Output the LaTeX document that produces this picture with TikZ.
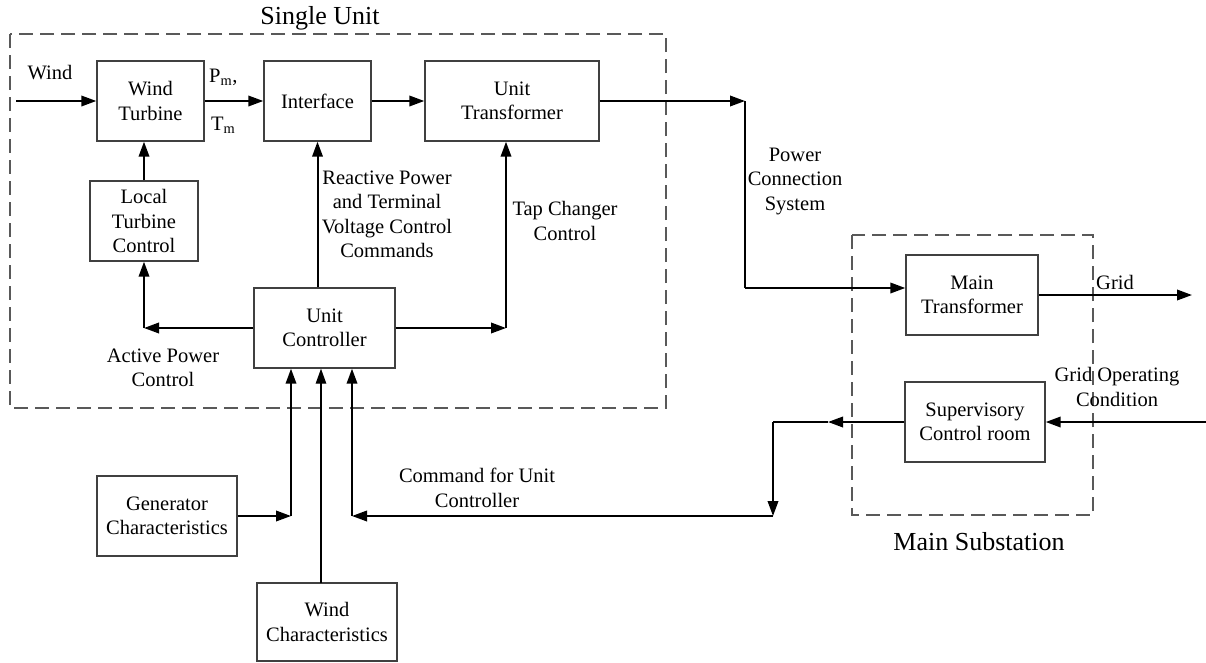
\documentclass[tikz,border=0pt]{standalone}
\usepackage{fontspec}
\setmainfont{Liberation Serif}
\usetikzlibrary{arrows.meta,calc}
\begin{document}
\begin{tikzpicture}[x=1pt,y=-1pt,
  blk/.style={draw=black!75,line width=1.4pt,align=center,inner sep=0pt,font=\fontsize{20.5}{24.5}\selectfont},
  lbl/.style={align=center,inner sep=0pt,font=\fontsize{20.5}{24.5}\selectfont},
  ttl/.style={inner sep=0pt,font=\fontsize{26}{30}\selectfont},
  grp/.style={draw=black!65,line width=1.4pt,dash pattern=on 14pt off 7pt},
  arr/.style={line width=2pt,-{Triangle[length=15pt,width=10.5pt]}},
  ln/.style={line width=2pt},
  thinarr/.style={line width=1.3pt,-{Triangle[length=15pt,width=10.5pt]}}]
\useasboundingbox (0,0) rectangle (1206,662);
% groups
\draw[grp] (10,34) rectangle (666,408);
\draw[grp] (852,235) rectangle (1093,515);
\node[ttl] (tsu) at (320,18) {Single Unit};
\node[ttl] (tms) at (979,542) {Main Substation};
% blocks
\node[blk,minimum width=107pt,minimum height=80pt] (wt) at (150.5,101) {Wind\\Turbine};
\node[blk,minimum width=107pt,minimum height=80pt] (if) at (317.5,101) {Interface};
\node[blk,minimum width=174pt,minimum height=80pt] (ut) at (512,101) {Unit\\Transformer};
\node[blk,minimum width=108pt,minimum height=80pt] (ltc) at (144,221) {Local\\Turbine\\Control};
\node[blk,minimum width=141pt,minimum height=80pt] (uc) at (324.5,328) {Unit\\Controller};
\node[blk,minimum width=140pt,minimum height=80pt] (gc) at (167,516) {Generator\\Characteristics};
\node[blk,minimum width=140pt,minimum height=78pt] (wc) at (327,622) {Wind\\Characteristics};
\node[blk,minimum width=132pt,minimum height=80pt] (mt) at (972,295) {Main\\Transformer};
\node[blk,minimum width=140pt,minimum height=80pt] (scr) at (975,422) {Supervisory\\Control room};
% labels
\node[lbl] (lwind) at (50,73) {Wind};
\node[lbl,anchor=west] (lpm) at (209,77) {P\textsubscript{m},};
\node[lbl,anchor=west] (ltm) at (211,125) {T\textsubscript{m}};
\node[lbl] (lrp) at (387,214.5) {Reactive Power\\and Terminal\\Voltage Control\\Commands};
\node[lbl] (ltap) at (565,221) {Tap Changer\\Control};
\node[lbl] (lpcs) at (795,181) {Power\\Connection\\System};
\node[lbl] (lapc) at (163,368) {Active Power\\Control};
\node[lbl] (lcmd) at (477,488) {Command for Unit\\Controller};
\node[lbl] (lgrid) at (1115,282) {Grid};
\node[lbl] (lgoc) at (1117,387) {Grid Operating\\Condition};
% coordinates
\coordinate (win) at (16,101);
\coordinate (p1) at (745,101);
\coordinate (p2) at (745,288);
\coordinate (gout) at (1192,295);
\coordinate (gin) at (1206,422);
\coordinate (s1) at (828,422);
\coordinate (s2) at (773,422);
\coordinate (s3) at (773,516);
\coordinate (s4) at (352,516);
\coordinate (g1) at (291,516);
\coordinate (w1) at (321,583);
\coordinate (a1) at (ltc.south |- uc.west);
\coordinate (t1) at (506,328);
% connectors
\draw[arr] (win) -- (wt.west);
\draw[arr] (wt.east) -- (if.west);
\draw[arr] (if.east) -- (ut.west);
\draw[arr] (ut.east) -- (p1);
\draw[ln] (p1) -- (p2);
\draw[arr] (p2) -- (mt.west |- p2);
\draw[arr] (mt.east |- gout) -- (gout);
\draw[arr] (gin) -- (scr.east);
\draw[arr] (scr.west) -- (s1);
\draw[ln] (s1) -- (s2);
\draw[arr] (s2) -- (s3);
\draw[arr] (s3) -- (s4);
\draw[arr] (s4) -- (s4 |- uc.south);
\draw[arr] (gc.east |- g1) -- (g1);
\draw[arr] (g1) -- (g1 |- uc.south);
\draw[thinarr] (w1) -- (w1 |- uc.south);
\draw[arr] (if.south |- uc.north) -- (if.south);
\draw[arr] (uc.east) -- (t1);
\draw[arr] (t1) -- (t1 |- ut.south);
\draw[arr] (uc.west) -- (a1);
\draw[arr] (a1) -- (ltc.south);
\draw[arr] (ltc.north) -- (ltc.north |- wt.south);
\end{tikzpicture}
\end{document}
